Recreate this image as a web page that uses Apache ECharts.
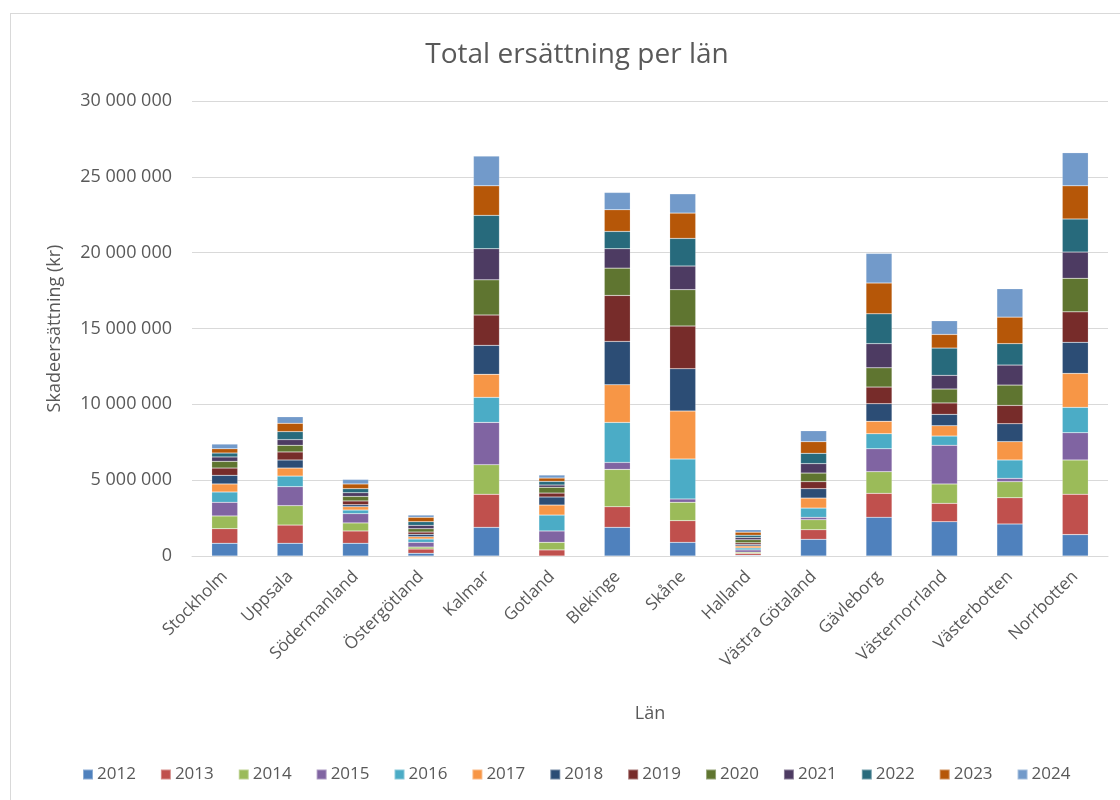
<!DOCTYPE html>
<html>
<head>
<meta charset="utf-8">
<script src="https://cdn.jsdelivr.net/npm/echarts@6/dist/echarts.min.js"></script>
<style>
  html, body { margin: 0; padding: 0; background: #fff; }
  #frame { position: absolute; left: 10px; top: 13px; width: 1120px; height: 800px; border: 1px solid #d9d9d9; box-sizing: border-box; }
  #chart { position: absolute; left: 0; top: 0; width: 1120px; height: 800px; }
</style>
</head>
<body>
<div id="frame"></div>
<div id="chart"></div>
<script>
// Counties (län)
const categories = ['Stockholm', 'Uppsala', 'Södermanland', 'Östergötland', 'Kalmar', 'Gotland',
  'Blekinge', 'Skåne', 'Halland', 'Västra Götaland', 'Gävleborg', 'Västernorrland', 'Västerbotten', 'Norrbotten'];

const years = ['2012', '2013', '2014', '2015', '2016', '2017', '2018', '2019', '2020', '2021', '2022', '2023', '2024'];

// Compensation per year, millions of kronor, one value per county in the order above
const v2012 = [0.84, 0.84, 0.84, 0.18, 1.89, 0.00, 1.89, 0.90, 0.05, 1.10, 2.55, 2.26, 2.11, 1.41];
const v2013 = [0.96, 1.20, 0.81, 0.28, 2.18, 0.40, 1.36, 1.43, 0.12, 0.63, 1.58, 1.21, 1.73, 2.66];
const v2014 = [0.84, 1.28, 0.53, 0.13, 1.95, 0.50, 2.46, 1.21, 0.08, 0.66, 1.43, 1.28, 1.06, 2.26];
const v2015 = [0.90, 1.25, 0.61, 0.31, 2.79, 0.75, 0.46, 0.22, 0.15, 0.16, 1.51, 2.55, 0.22, 1.80];
const v2016 = [0.68, 0.70, 0.24, 0.22, 1.65, 1.05, 2.64, 2.63, 0.13, 0.61, 0.99, 0.61, 1.21, 1.67];
const v2017 = [0.53, 0.53, 0.22, 0.15, 1.52, 0.66, 2.48, 3.17, 0.13, 0.66, 0.82, 0.68, 1.21, 2.24];
const v2018 = [0.57, 0.53, 0.13, 0.16, 1.91, 0.53, 2.86, 2.79, 0.10, 0.62, 1.16, 0.75, 1.18, 2.05];
const v2019 = [0.48, 0.53, 0.25, 0.15, 2.00, 0.26, 3.03, 2.81, 0.11, 0.46, 1.10, 0.75, 1.21, 2.01];
const v2020 = [0.44, 0.44, 0.30, 0.22, 2.32, 0.38, 1.80, 2.40, 0.20, 0.57, 1.27, 0.92, 1.34, 2.21];
const v2021 = [0.29, 0.37, 0.24, 0.22, 2.05, 0.15, 1.28, 1.56, 0.15, 0.62, 1.59, 0.90, 1.32, 1.73];
const v2022 = [0.26, 0.53, 0.27, 0.24, 2.20, 0.24, 1.14, 1.82, 0.15, 0.68, 1.97, 1.80, 1.41, 2.18];
const v2023 = [0.28, 0.55, 0.31, 0.29, 1.95, 0.22, 1.43, 1.67, 0.20, 0.77, 2.03, 0.90, 1.75, 2.19];
const v2024 = [0.31, 0.43, 0.30, 0.15, 1.96, 0.20, 1.14, 1.27, 0.16, 0.72, 1.95, 0.90, 1.87, 2.18];

const yearValues = [v2012, v2013, v2014, v2015, v2016, v2017, v2018, v2019, v2020, v2021, v2022, v2023, v2024];

const palette = ['#4F81BD', '#C0504D', '#9BBB59', '#8064A2', '#4BACC6', '#F79646', '#2C4D75',
  '#772C2A', '#5F7530', '#4D3B62', '#276A7C', '#B65708', '#729ACA'];

const FONT = '"Open Sans", "DejaVu Sans", sans-serif';
const TEXT = '#595959';

function spaced(n) {
  return String(Math.round(n)).replace(/\B(?=(\d{3})+(?!\d))/g, ' ');
}

const series = years.map((y, i) => ({
  name: y,
  type: 'bar',
  stack: 'total',
  barWidth: 26,
  itemStyle: { color: palette[i], borderColor: 'rgba(255,255,255,0.35)', borderWidth: 0.5 },
  data: yearValues[i].map(v => Math.round(v * 1e6))
}));

const chart = echarts.init(document.getElementById('chart'), null, { renderer: 'canvas' });
chart.setOption({
  animation: false,
  color: palette,
  textStyle: { fontFamily: FONT },
  title: {
    text: 'Total ersättning per län',
    left: 572,
    textAlign: 'center',
    top: 36,
    textStyle: { fontFamily: FONT, fontSize: 28, fontWeight: 'normal', color: TEXT }
  },
  legend: {
    bottom: 12,
    left: 77,
    itemWidth: 10,
    itemHeight: 10,
    itemGap: 24,
    icon: 'rect',
    textStyle: { fontFamily: FONT, fontSize: 17, color: TEXT, padding: [0, 0, 0, -1] },
    data: years
  },
  grid: { left: 192, right: 12, top: 101, bottom: 244 },
  xAxis: {
    type: 'category',
    data: categories,
    name: 'Län',
    nameLocation: 'middle',
    nameGap: 149,
    nameTextStyle: { fontFamily: FONT, fontSize: 18, color: TEXT },
    axisLine: { lineStyle: { color: '#d9d9d9', width: 1 } },
    axisTick: { show: false },
    axisLabel: { rotate: 45, fontFamily: FONT, fontSize: 17, color: TEXT, margin: 18, interval: 0 }
  },
  yAxis: {
    type: 'value',
    min: 0,
    max: 30000000,
    interval: 5000000,
    name: 'Skadeersättning (kr)',
    nameLocation: 'middle',
    nameGap: 128,
    nameTextStyle: { fontFamily: FONT, fontSize: 18, color: TEXT },
    axisLine: { show: false },
    axisTick: { show: false },
    splitLine: { lineStyle: { color: '#d9d9d9', width: 1 } },
    axisLabel: { fontFamily: FONT, fontSize: 18, color: TEXT, margin: 20, formatter: spaced }
  },
  series: series
});
</script>
</body>
</html>
